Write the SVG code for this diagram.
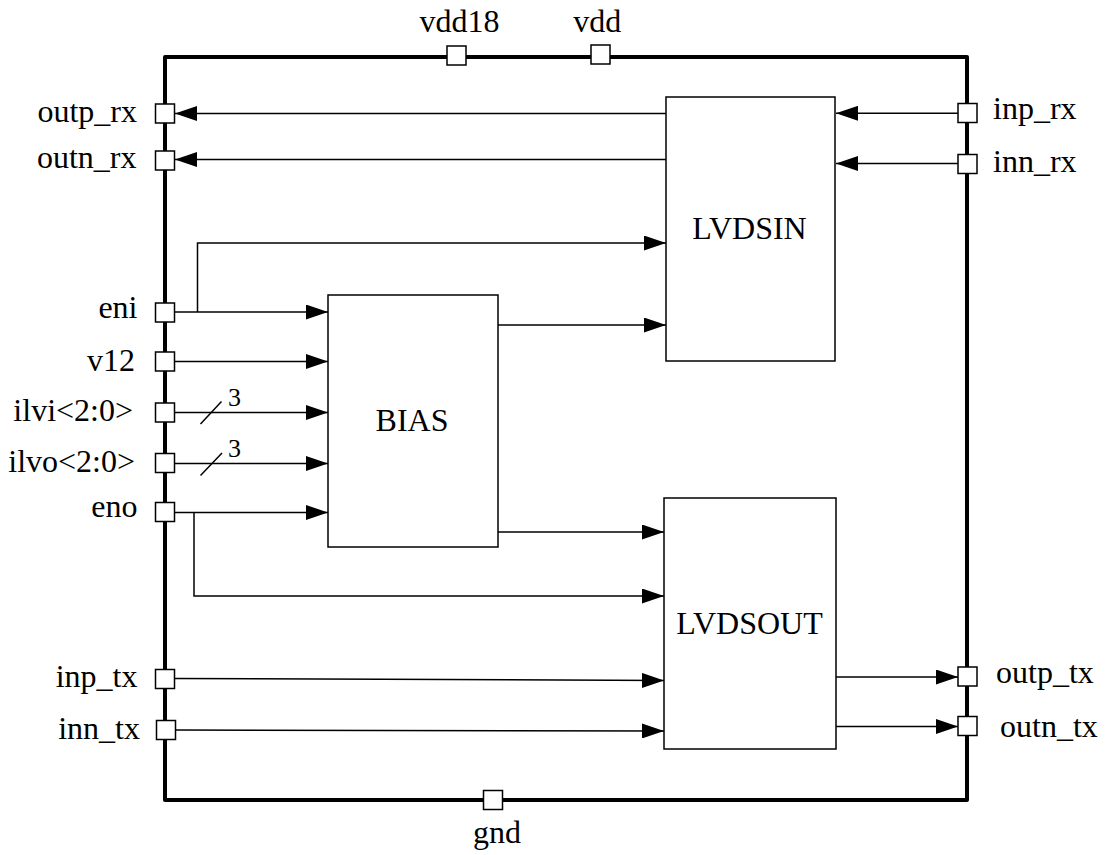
<svg xmlns="http://www.w3.org/2000/svg" width="1111" height="855" viewBox="0 0 1111 855">
<style>
  text { font-family: "Liberation Serif", "Times New Roman", serif; font-size: 32px; fill: #000; }
  .lbl-l { text-anchor: end; }
  .lbl-m { text-anchor: middle; }
  .bus { font-size: 26px; }
  .border { fill: none; stroke: #000; stroke-width: 4; stroke-linejoin: round; }
  .pad { fill: #fff; stroke: #000; stroke-width: 1.5; }
  .block { fill: #fff; stroke: #000; stroke-width: 1.5; }
  .wire { fill: none; stroke: #000; stroke-width: 1.5; }
  .arrow { marker-end: url(#ah); }
</style>
<defs>
  <marker id="ah" markerWidth="22" markerHeight="15" refX="22" refY="7.5" orient="auto" markerUnits="userSpaceOnUse">
    <path d="M0,0 L22,7.5 L0,15 z" fill="#000"/>
  </marker>
</defs>
<rect width="1111" height="855" fill="#fff"/>
<g id="chip-border">
  <rect class="border" x="165" y="57" width="802" height="743"/>
</g>
<g id="connectors">
  <line class="wire arrow" x1="666" y1="113.5" x2="175" y2="113.5"/>
  <line class="wire arrow" x1="666" y1="159.5" x2="175" y2="159.5"/>
  <line class="wire arrow" x1="958" y1="113.3" x2="836" y2="113.3"/>
  <line class="wire arrow" x1="958" y1="163.5" x2="836" y2="163.5"/>
  <line class="wire arrow" x1="175" y1="312" x2="328" y2="312"/>
  <polyline class="wire arrow" points="197.5,312 197.5,243 666,243"/>
  <line class="wire arrow" x1="175" y1="361.5" x2="328" y2="361.5"/>
  <line class="wire arrow" x1="175" y1="412.5" x2="328" y2="412.5"/>
  <line class="wire" x1="200.5" y1="424" x2="221.5" y2="401.5"/>
  <line class="wire arrow" x1="175" y1="463.5" x2="328" y2="463.5"/>
  <line class="wire" x1="200.5" y1="475.5" x2="222" y2="453"/>
  <line class="wire arrow" x1="175" y1="512.5" x2="328" y2="512.5"/>
  <polyline class="wire arrow" points="194,512.5 194,596 664,596"/>
  <line class="wire arrow" x1="498" y1="325" x2="666" y2="325"/>
  <line class="wire arrow" x1="498" y1="532" x2="664" y2="532"/>
  <line class="wire arrow" x1="175" y1="678.5" x2="664" y2="680.5"/>
  <line class="wire arrow" x1="176" y1="730" x2="664" y2="731"/>
  <line class="wire arrow" x1="836" y1="677" x2="958" y2="677"/>
  <line class="wire arrow" x1="836" y1="726.5" x2="958" y2="726.5"/>
  <text class="bus" x="228" y="406">3</text>
  <text class="bus" x="228" y="456.7">3</text>
</g>
<g id="LVDSIN">
  <rect class="block" x="666" y="97" width="169" height="264"/>
  <text class="lbl-m" x="749.5" y="239.3">LVDSIN</text>
</g>
<g id="BIAS">
  <rect class="block" x="328" y="295" width="170" height="252"/>
  <text class="lbl-m" x="412" y="430.7">BIAS</text>
</g>
<g id="LVDSOUT">
  <rect class="block" x="664" y="498" width="172" height="251"/>
  <text class="lbl-m" x="749.5" y="634">LVDSOUT</text>
</g>
<g id="pad-vdd18">
  <rect class="pad" x="447" y="46" width="19" height="19"/>
  <text class="lbl-m" x="459.5" y="32">vdd18</text>
</g>
<g id="pad-vdd">
  <rect class="pad" x="591" y="45" width="19" height="19"/>
  <text class="lbl-m" x="597.3" y="32.3">vdd</text>
</g>
<g id="pad-gnd">
  <rect class="pad" x="483.5" y="790.5" width="19" height="19"/>
  <text class="lbl-m" x="497" y="842.7">gnd</text>
</g>
<g id="pad-outp_rx">
  <rect class="pad" x="155.5" y="104" width="19" height="19"/>
  <text class="lbl-l" x="137" y="122">outp_rx</text>
</g>
<g id="pad-outn_rx">
  <rect class="pad" x="155.5" y="151" width="19" height="19"/>
  <text class="lbl-l" x="136.5" y="167.7">outn_rx</text>
</g>
<g id="pad-eni">
  <rect class="pad" x="155.5" y="303" width="19" height="19"/>
  <text class="lbl-l" x="137.5" y="318.3">eni</text>
</g>
<g id="pad-v12">
  <rect class="pad" x="155.5" y="352" width="19" height="19"/>
  <text class="lbl-l" x="135" y="371">v12</text>
</g>
<g id="pad-ilvi">
  <rect class="pad" x="155.5" y="403" width="19" height="19"/>
  <text class="lbl-l" x="133" y="420.7">ilvi&lt;2:0&gt;</text>
</g>
<g id="pad-ilvo">
  <rect class="pad" x="155.5" y="453.5" width="19" height="19"/>
  <text class="lbl-l" x="135" y="472.3">ilvo&lt;2:0&gt;</text>
</g>
<g id="pad-eno">
  <rect class="pad" x="155.5" y="502.5" width="19" height="19"/>
  <text class="lbl-l" x="137.5" y="517.3">eno</text>
</g>
<g id="pad-inp_tx">
  <rect class="pad" x="155.5" y="669.5" width="19" height="19"/>
  <text class="lbl-l" x="137.5" y="686.7">inp_tx</text>
</g>
<g id="pad-inn_tx">
  <rect class="pad" x="156.5" y="720.5" width="19" height="19"/>
  <text class="lbl-l" x="140" y="739">inn_tx</text>
</g>
<g id="pad-inp_rx">
  <rect class="pad" x="958" y="103.5" width="19" height="19"/>
  <text x="993" y="119.3">inp_rx</text>
</g>
<g id="pad-inn_rx">
  <rect class="pad" x="958" y="154.5" width="19" height="19"/>
  <text x="993" y="171.7">inn_rx</text>
</g>
<g id="pad-outp_tx">
  <rect class="pad" x="958" y="667" width="19" height="19"/>
  <text x="996" y="683.3">outp_tx</text>
</g>
<g id="pad-outn_tx">
  <rect class="pad" x="958" y="716.5" width="19" height="19"/>
  <text x="1000" y="736.7">outn_tx</text>
</g>
</svg>
